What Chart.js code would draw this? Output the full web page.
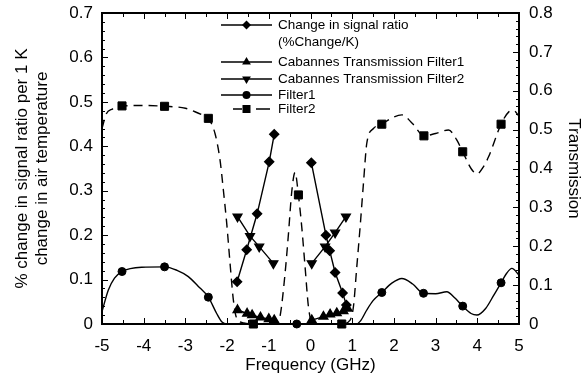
<!DOCTYPE html>
<html>
<head>
<meta charset="utf-8">
<script src="https://cdn.jsdelivr.net/npm/chart.js@4.4.1/dist/chart.umd.min.js"></script>
<style>
  html, body { margin: 0; padding: 0; background: #fff; }
  #wrap { width: 584px; height: 379px; }
</style>
</head>
<body>
<div id="wrap"><canvas id="chart"></canvas></div>
<script>
// Change in signal ratio (%Change/K), left axis; null splits the two branches
const ratioFreq = [-1.76, -1.53, -1.28, -0.99, -0.87, null, 0.02, 0.37, 0.46, 0.59, 0.77, 0.86];
const ratioVal  = [0.095, 0.167, 0.248, 0.365, 0.427, null, 0.363, 0.200, 0.165, 0.116, 0.070, 0.043];

// Cabannes transmission, right axis
const cab1Freq = [-1.75, -1.52, -1.40, -1.20, -1.00, -0.87, null, 0.03, 0.31, 0.47, 0.63, 0.79, 0.89];
const cab1Val  = [0.036, 0.027, 0.023, 0.017, 0.013, 0.010, null, 0.010, 0.019, 0.025, 0.028, 0.033, 0.040];
const cab2Freq = [-1.75, -1.45, -1.23, -0.89, null, 0.03, 0.35, 0.59, 0.85];
const cab2Val  = [0.276, 0.226, 0.199, 0.156, null, 0.156, 0.199, 0.235, 0.276];

// Filter1 transmission curve + marked points
const f1Freq = [-5.0, -4.85, -4.7, -4.52, -4.05, -3.5, -3.2, -2.93, -2.7, -2.45, -2.25, -2.13, -2.0, -1.0, 0.0, 1.1,
                1.2, 1.35, 1.5, 1.71, 1.95, 2.19, 2.45, 2.71, 3.0, 3.27, 3.45, 3.65, 3.85, 3.99, 4.2, 4.4, 4.57, 4.7, 4.83, 5.0];
const f1Val  = [0.032, 0.087, 0.118, 0.135, 0.146, 0.147, 0.138, 0.122, 0.098, 0.069, 0.027, 0.006, 0.0, 0.0, 0.0, 0.0,
                0.008, 0.036, 0.060, 0.081, 0.105, 0.117, 0.103, 0.079, 0.078, 0.083, 0.068, 0.046, 0.027, 0.023, 0.040, 0.075, 0.106, 0.130, 0.143, 0.126];
const f1MarkFreq = [-4.52, -3.50, -2.45, -0.33, 1.71, 2.71, 3.65, 4.57];
const f1MarkVal  = [0.135, 0.147, 0.069, 0.0, 0.081, 0.079, 0.046, 0.106];

// Filter2 transmission curve + marked points
const f2Freq = [-5.0, -4.9, -4.75, -4.52, -4.0, -3.5, -3.0, -2.77, -2.6, -2.45, -2.29, -2.17, -2.09, -2.01, -1.93, -1.85,
                -1.77, -1.6, -1.37, -1.0, -0.8, -0.73, -0.61, -0.53, -0.45, -0.37, -0.29, -0.21, -0.13, -0.05, 0.05,
                0.4, 0.75, 0.95, 1.03, 1.11, 1.19, 1.27, 1.35, 1.51, 1.71, 1.95, 2.19, 2.45, 2.72, 3.0, 3.31, 3.5,
                3.65, 3.85, 3.99, 4.15, 4.27, 4.57, 4.75, 4.87, 5.0];
const f2Val  = [0.503, 0.540, 0.553, 0.561, 0.562, 0.560, 0.555, 0.546, 0.538, 0.529, 0.490, 0.422, 0.345, 0.260, 0.157, 0.062,
                0.015, 0.003, 0.0, 0.0, 0.005, 0.020, 0.130, 0.230, 0.340, 0.390, 0.332, 0.250, 0.147, 0.045, 0.0,
                0.0, 0.0, 0.010, 0.045, 0.147, 0.250, 0.362, 0.465, 0.503, 0.514, 0.530, 0.538, 0.515, 0.484, 0.490, 0.499, 0.475,
                0.443, 0.400, 0.386, 0.405, 0.430, 0.514, 0.545, 0.549, 0.535];
const f2MarkFreq = [-4.52, -3.50, -2.45, -1.37, -0.29, 0.75, 1.71, 2.72, 3.65, 4.57];
const f2MarkVal  = [0.561, 0.560, 0.529, 0.0, 0.332, 0.0, 0.514, 0.484, 0.443, 0.514];

const FONT = "'Liberation Sans', Arial, sans-serif";

function pts(xs, ys) {
  return xs.map((x, i) => ({ x: x, y: ys[i] }));
}

function marker(ctx, kind, x, y) {
  ctx.beginPath();
  if (kind === 'diamond') {
    ctx.moveTo(x, y - 4.5); ctx.lineTo(x + 4.5, y); ctx.lineTo(x, y + 4.5); ctx.lineTo(x - 4.5, y);
  } else if (kind === 'up') {
    ctx.moveTo(x, y - 5); ctx.lineTo(x + 4.4, y + 2.5); ctx.lineTo(x - 4.4, y + 2.5);
  } else if (kind === 'down') {
    ctx.moveTo(x, y + 5); ctx.lineTo(x + 4.4, y - 2.5); ctx.lineTo(x - 4.4, y - 2.5);
  } else if (kind === 'circle') {
    ctx.arc(x, y, 4, 0, Math.PI * 2);
  } else {
    ctx.rect(x - 4, y - 4, 8, 8);
  }
  ctx.closePath();
  ctx.fill();
}

// legend drawn by hand: line sample with its marker in the middle
const legendBox = {
  id: 'legendBox',
  afterDatasetsDraw(chart) {
    const ctx = chart.ctx;
    const items = [
      { y: 25, kind: 'diamond', text: ['Change in signal ratio', '(%Change/K)'] },
      { y: 62, kind: 'up', text: ['Cabannes Transmission Filter1'] },
      { y: 79, kind: 'down', text: ['Cabannes Transmission Filter2'] },
      { y: 95, kind: 'circle', text: ['Filter1'] },
      { y: 109, kind: 'square', text: ['Filter2'], dashed: true }
    ];
    ctx.save();
    ctx.fillStyle = '#000';
    ctx.strokeStyle = '#000';
    ctx.lineWidth = 1.3;
    ctx.font = '13.5px ' + FONT;
    ctx.textBaseline = 'middle';
    items.forEach(it => {
      ctx.beginPath();
      if (it.dashed) {
        ctx.moveTo(233, it.y); ctx.lineTo(242, it.y);
        ctx.moveTo(256, it.y); ctx.lineTo(270, it.y);
      } else {
        ctx.moveTo(221, it.y); ctx.lineTo(272, it.y);
      }
      ctx.stroke();
      marker(ctx, it.kind, 246.5, it.y);
      it.text.forEach((t, i) => ctx.fillText(t, 278, it.y + i * 17));
    });
    ctx.restore();
  }
};

// frame with inward major/minor ticks on every side
const frameTicks = {
  id: 'frameTicks',
  afterDatasetsDraw(chart) {
    const { ctx, chartArea: a, scales } = chart;
    ctx.save();
    ctx.strokeStyle = '#000';
    ctx.lineWidth = 1;
    ctx.beginPath();
    for (let i = -10; i <= 10; i++) {
      const px = Math.round(scales.x.getPixelForValue(i / 2)) + 0.5;
      const len = i % 2 === 0 ? 6 : 4;
      ctx.moveTo(px, a.bottom); ctx.lineTo(px, a.bottom - len);
      ctx.moveTo(px, a.top); ctx.lineTo(px, a.top + len);
    }
    for (let i = 0; i <= 35; i++) {
      const py = Math.round(scales.y.getPixelForValue(i * 0.02)) + 0.5;
      const len = i % 5 === 0 ? 6 : 3;
      ctx.moveTo(a.left, py); ctx.lineTo(a.left + len, py);
    }
    for (let i = 0; i <= 40; i++) {
      const py = Math.round(scales.y1.getPixelForValue(i * 0.02)) + 0.5;
      const len = i % 5 === 0 ? 6 : 3;
      ctx.moveTo(a.right, py); ctx.lineTo(a.right - len, py);
    }
    ctx.stroke();
    ctx.lineWidth = 2;
    ctx.strokeRect(a.left, a.top, a.right - a.left, a.bottom - a.top);
    ctx.restore();
  }
};

const tickFont = { family: FONT, size: 17 };

// vertical scales: fixed width, no label overflow padding so the plot box matches the figure
function fixVertical(width) {
  return s => { s.width = width; s.paddingTop = 0; s.paddingBottom = 0; };
}

new Chart(document.getElementById('chart'), {
  type: 'scatter',
  data: {
    datasets: [
      { data: pts(f2Freq, f2Val), yAxisID: 'y1', showLine: true, borderColor: '#000', borderWidth: 1.4,
        borderDash: [9, 6], pointRadius: 0, cubicInterpolationMode: 'monotone', clip: false },
      { data: pts(f1Freq, f1Val), yAxisID: 'y1', showLine: true, borderColor: '#000', borderWidth: 1.4,
        pointRadius: 0, cubicInterpolationMode: 'monotone', clip: false },
      { data: pts(f2MarkFreq, f2MarkVal), yAxisID: 'y1', showLine: false, pointStyle: 'rect',
        pointRadius: 5.7, backgroundColor: '#000', borderColor: '#000', clip: false },
      { data: pts(f1MarkFreq, f1MarkVal), yAxisID: 'y1', showLine: false, pointStyle: 'circle',
        pointRadius: 4, backgroundColor: '#000', borderColor: '#000', clip: false },
      { data: pts(cab1Freq, cab1Val), yAxisID: 'y1', showLine: true, borderColor: '#000', borderWidth: 1.4,
        pointStyle: 'triangle', pointRadius: 5, backgroundColor: '#000', clip: false },
      { data: pts(cab2Freq, cab2Val), yAxisID: 'y1', showLine: true, borderColor: '#000', borderWidth: 1.4,
        pointStyle: 'triangle', rotation: 180, pointRadius: 5, backgroundColor: '#000', clip: false },
      { data: pts(ratioFreq, ratioVal), yAxisID: 'y', showLine: true, borderColor: '#000', borderWidth: 1.4,
        pointStyle: 'rectRot', pointRadius: 4.5, backgroundColor: '#000', clip: false }
    ]
  },
  options: {
    responsive: true,
    maintainAspectRatio: false,
    animation: false,
    layout: { padding: { top: 13, left: 0, right: 0, bottom: 0 } },
    plugins: { legend: { display: false }, tooltip: { enabled: false } },
    scales: {
      x: {
        type: 'linear', min: -5, max: 5,
        grid: { display: false, drawTicks: false },
        border: { display: false },
        ticks: { stepSize: 1, color: '#000', font: tickFont, padding: 12, maxRotation: 0 },
        title: { display: true, text: 'Frequency (GHz)', color: '#000', font: tickFont, padding: { top: 0, bottom: 3 } },
        afterFit: s => { s.height = 55; }
      },
      y: {
        position: 'left', min: 0, max: 0.7,
        grid: { display: false, drawTicks: false },
        border: { display: false },
        ticks: { stepSize: 0.1, color: '#000', font: tickFont, padding: 9 },
        title: { display: true, text: ['% change in signal ratio per 1 K', 'change in air temperature'],
                 color: '#000', font: { family: FONT, size: 17, lineHeight: 1.2 }, padding: { top: 12, bottom: 0 } },
        afterFit: fixVertical(102)
      },
      y1: {
        position: 'right', min: 0, max: 0.8,
        grid: { display: false, drawTicks: false },
        border: { display: false },
        ticks: { stepSize: 0.1, color: '#000', font: tickFont, padding: 10 },
        title: { display: true, text: 'Transmission', color: '#000', font: tickFont, padding: { top: 0, bottom: 0 } },
        afterFit: fixVertical(65)
      }
    }
  },
  plugins: [frameTicks, legendBox]
});
</script>
</body>
</html>
